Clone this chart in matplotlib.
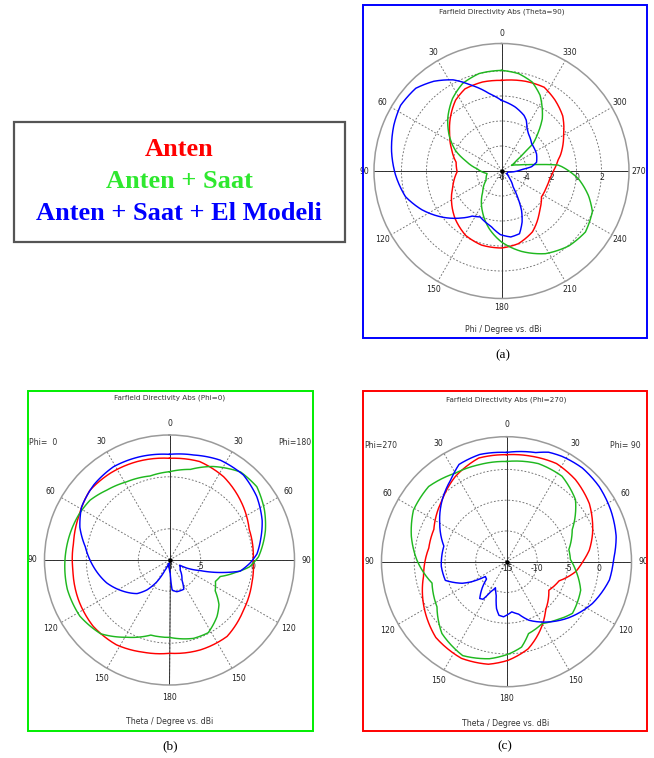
#!/usr/bin/env python3
"""
Three CST-style farfield directivity polar plots (dBi) plus a colour key box.
(a) Theta=90 cut, (b) Phi=0/180 cut, (c) Phi=270/90 cut.
"""

import numpy as np
import matplotlib
matplotlib.use("Agg")
import matplotlib.pyplot as plt
from matplotlib.patches import Rectangle

W, H = 654, 758

RED = "#ff0000"
GREEN = "#1fb81f"
BLUE = "#0000ff"

# ---- (a) Theta=90, angle = Phi in degrees, value in dBi ----
A_RED_PHI = [0, 12, 24, 33, 42, 53, 66, 79, 91, 108, 122, 136, 151, 165, 180, 193, 207, 220, 224,
             237, 250, 261, 270, 281, 285, 300, 312, 323, 333, 345]
A_RED_DB = [1.25, 1.28, 1.19, 0.75, 0.05, -0.8, -1.62, -2.3, -2.45, -1.9, -1.29, -0.67, -0.1, 0.14,
            0.16, -0.03, -0.54, -1.36, -1.6, -2.19, -2.18, -2.09, -1.85, -1.39, -1.12, -0.26, 0.59,
            1.11, 1.52, 1.43]

A_GREEN_PHI = [0, 13, 24, 34, 45, 56, 66, 74, 85, 100, 121, 138, 155, 168, 180, 194, 208, 222, 234,
               246, 254, 264, 274, 276, 279, 283, 289, 299, 305, 309, 311, 316, 322, 333, 341, 350]
A_GREEN_DB = [2.05, 2.0, 1.66, 1.0, 0.07, -0.96, -1.97, -3.0, -4.05, -4.83, -4.56, -3.76, -2.4, -1.28,
              -0.32, 0.63, 1.49, 2.06, 2.3, 1.96, 1.25, 0.21, -1.14, -1.45, -2.7, -3.76, -4.53, -5.08,
              -4.53, -3.6, -2.65, -1.81, -0.7, 0.8, 1.53, 1.91]

A_BLUE_PHI = [0, 9, 19, 28, 37, 46, 57, 67, 80, 92, 105, 116, 128, 138, 147, 155, 169, 179, 188, 196,
              202, 207, 211, 216, 227, 242, 261, 274, 278, 284, 296, 312, 324, 329, 334, 338, 348]
A_BLUE_DB = [-0.35, 0.27, 1.24, 2.26, 2.99, 3.53, 3.63, 3.36, 2.93, 2.49, 1.95, 1.08, 0.0, -0.92, -1.7,
             -1.95, -1.51, -0.91, -0.67, -0.78, -1.6, -2.47, -3.41, -4.42, -5.09, -5.55, -5.47, -4.4,
             -3.58, -3.11, -2.88, -2.75, -2.33, -2.04, -1.48, -1.2, -0.76]

# ---- (b) Phi=0 (left half) / Phi=180 (right half), angle counted ccw from top ----
B_RED_ANG = [0, 18, 34, 49, 64, 80, 96, 114, 131, 148, 164, 180, 199, 217, 236, 254, 270, 291, 310,
             327, 343]
B_RED_DB = [1.78, 1.96, 2.1, 2.17, 1.69, 1.37, 1.34, 1.56, 1.72, 1.62, 1.22, 0.97, 1.14, 1.2, 0.59,
            0.23, 0.05, 0.21, 0.91, 1.55, 1.9]

B_GREEN_ANG = [0, 13, 29, 42, 53, 64, 75, 88, 106, 122, 137, 151, 166, 180, 197, 208, 220, 228, 236,
               245, 252, 259, 265, 272, 287, 298, 310, 321, 335, 347]
B_GREEN_DB = [0.49, 0.29, 0.58, 1.03, 1.56, 1.76, 1.89, 2.03, 2.22, 2.17, 1.7, 0.49, -0.56, -0.56,
              -0.12, -0.08, -0.9, -1.6, -2.7, -3.13, -2.87, -1.6, -0.3, 0.56, 1.64, 2.33, 2.96, 2.88,
              1.92, 0.94]

B_BLUE_ANG = [0, 16, 31, 45, 59, 70, 81, 95, 110, 124, 136, 143, 150, 156, 164, 174, 183, 184, 185,
              193, 206, 212, 227, 243, 245, 251, 257, 261, 268, 274, 283, 293, 306, 319, 333, 347]
B_BLUE_DB = [2.16, 2.33, 2.46, 2.26, 1.87, 1.17, 0.2, -0.66, -1.57, -2.63, -3.51, -4.4, -5.6, -6.9,
             -7.6, -7.7, -6.7, -5.76, -5.1, -4.87, -4.87, -5.74, -6.6, -6.9, -6.15, -4.87, -2.67,
             -1.13, -0.23, 0.43, 1.0, 1.68, 2.37, 2.83, 2.77, 2.36]

# ---- (c) Phi=270 (left half) / Phi=90 (right half) ----
C_RED_ANG = [0, 15, 31, 46, 66, 80, 100, 119, 137, 155, 170, 181, 194, 206, 219, 236, 250, 262, 270,
             278, 288, 305, 320, 333, 348]
C_RED_DB = [2.4, 2.45, 1.16, -0.48, -2.07, -2.17, -1.3, 0.33, 1.85, 2.34, 1.93, 1.03, -0.41, -2.55,
            -4.9, -6.7, -5.9, -3.6, -2.6, -1.4, -0.29, 1.45, 2.43, 2.91, 2.6]

C_GREEN_ANG = [0, 16, 30, 46, 61, 75, 89, 106, 123, 138, 155, 170, 182, 190, 197, 210, 220, 232, 249,
               263, 272, 281, 296, 312, 327, 342]
C_GREEN_DB = [1.3, 1.39, 1.63, 2.6, 2.3, 1.02, -0.43, -2.4, -1.52, 0.7, 1.85, 1.02, -0.05, -0.9, -2.77,
              -3.39, -2.58, -1.38, -2.08, -3.67, -4.6, -4.67, -3.11, 0.09, 1.57, 1.77]

C_BLUE_ANG = [0, 14, 26, 34, 46, 60, 76, 94, 107, 116, 120, 125, 131, 138, 144, 148, 152, 157, 163,
              168, 172, 177, 186, 193, 201, 215, 228, 244, 260, 271, 283, 296, 309, 321, 332, 339, 345]
C_BLUE_DB = [2.77, 2.97, 2.6, 1.14, -0.48, -2.46, -4.5, -4.37, -4.6, -7.0, -8.5, -10.8, -10.7, -9.0,
             -7.6, -7.8, -9.4, -10.4, -9.3, -7.2, -6.2, -6.03, -6.8, -6.25, -4.8, -3.04, -1.38, 0.53,
             2.0, 2.4, 3.3, 3.9, 4.4, 4.6, 4.37, 4.07, 3.37]

A_ANGLE_LABELS = ["0", "30", "60", "90", "120", "150", "180", "210", "240", "270", "300", "330"]
BC_ANGLE_LABELS = ["0", "30", "60", "90", "120", "150", "180", "150", "120", "90", "60", "30"]

LEGEND_LINES = [("Anten", RED), ("Anten + Saat", "#2ee82e"), ("Anten + Saat + El Modeli", BLUE)]

CST_FONT = "DejaVu Sans"


def frac(x, y):
    return x / W, 1 - y / H


def polar_panel(fig, cx, cy, R, rmin, ppd, grid_vals, rlabels, alabels):
    rmax = rmin + R / ppd
    ax = fig.add_axes([(cx - R) / W, 1 - (cy + R) / H, 2 * R / W, 2 * R / H], projection="polar")
    ax.set_theta_zero_location("N")
    ax.set_theta_direction(1)
    ax.set_ylim(rmin, rmax)
    ax.set_xticks(np.deg2rad(np.arange(0, 360, 30)))
    ax.set_xticklabels([])
    ax.set_yticks(grid_vals)
    ax.set_yticklabels([])
    ax.tick_params(length=0)
    ax.grid(True, color="#707070", linestyle=(0, (2, 2)), linewidth=0.65)
    ax.spines["polar"].set_color("#9a9a9a")
    ax.spines["polar"].set_linewidth(1.1)

    # solid cross through the centre
    for a in (0, 90, 180, 270):
        ax.plot(np.deg2rad([a, a]), [rmin, rmax], color="#303030", lw=0.7, zorder=2)
    ax.plot([0], [rmin], "o", color="black", ms=2.2, zorder=6)

    r_lab = rmin + 137 / ppd
    for i, txt in enumerate(alabels):
        ax.text(np.deg2rad(30 * i), r_lab, txt, ha="center", va="center",
                fontsize=5.6, family=CST_FONT, color="#222222", clip_on=False)
    for v, txt in rlabels:
        ax.annotate(txt, xy=(np.deg2rad(270), v), xytext=(0, -1.5), textcoords="offset points",
                    ha="center", va="top", fontsize=5.6, family=CST_FONT, color="#222222",
                    annotation_clip=False, zorder=3)
    return ax


def curve(ax, ang, db, color):
    a = np.deg2rad(list(ang) + [ang[0] + 360])
    r = list(db) + [db[0]]
    line, = ax.plot(a, r, color=color, lw=1.05, zorder=5, solid_joinstyle="round")
    # let the polar transform draw each segment as a theta/r sweep instead of a chord
    line.get_path()._interpolation_steps = 24


def frame(fig, x0, y0, x1, y1, color, lw):
    fx, fy = frac(x0, y1)
    fig.add_artist(Rectangle((fx, fy), (x1 - x0) / W, (y1 - y0) / H, transform=fig.transFigure,
                             fill=False, edgecolor=color, linewidth=lw))


def ftext(fig, x, y, s, **kw):
    fx, fy = frac(x, y)
    fig.text(fx, fy, s, ha="center", va="center", **kw)


def main():
    fig = plt.figure(figsize=(W / 100, H / 100), dpi=100)
    fig.patch.set_facecolor("white")

    # (a)
    ax = polar_panel(fig, 501.5, 171, 127.5, -6, 12.5, [-4, -2, 0, 2],
                     [(-6, "-6"), (-4, "-4"), (-2, "-2"), (0, "0"), (2, "2")], A_ANGLE_LABELS)
    curve(ax, A_RED_PHI, A_RED_DB, RED)
    curve(ax, A_GREEN_PHI, A_GREEN_DB, GREEN)
    curve(ax, A_BLUE_PHI, A_BLUE_DB, BLUE)
    frame(fig, 362.5, 5, 646.5, 337.5, BLUE, 1.4)
    ftext(fig, 502, 12, "Farfield Directivity Abs (Theta=90)", fontsize=5.2, family=CST_FONT, color="#333")
    ftext(fig, 503, 330, "Phi / Degree vs. dBi", fontsize=5.6, family=CST_FONT, color="#333")
    ftext(fig, 503, 355, "(a)", fontsize=9.5, family="Liberation Serif")

    # (b)
    ax = polar_panel(fig, 169.5, 560, 125, -8, 10.4, [-5, 0],
                     [(-8, "-8"), (-5, "-5"), (0, "0")], BC_ANGLE_LABELS)
    curve(ax, B_RED_ANG, B_RED_DB, RED)
    curve(ax, B_GREEN_ANG, B_GREEN_DB, GREEN)
    curve(ax, B_BLUE_ANG, B_BLUE_DB, BLUE)
    frame(fig, 28, 391, 312.5, 731, "#00ee00", 1.4)
    ftext(fig, 170, 397.5, "Farfield Directivity Abs (Phi=0)", fontsize=5.2, family=CST_FONT, color="#333")
    ftext(fig, 170, 722, "Theta / Degree vs. dBi", fontsize=5.6, family=CST_FONT, color="#333")
    ftext(fig, 43, 442.5, "Phi=  0", fontsize=5.6, family=CST_FONT, color="#333")
    ftext(fig, 295, 442.5, "Phi=180", fontsize=5.6, family=CST_FONT, color="#333")
    ftext(fig, 170, 746, "(b)", fontsize=9.5, family="Liberation Serif")

    # (c)
    ax = polar_panel(fig, 506.5, 561.7, 125, -15, 6.15, [-10, -5, 0],
                     [(-15, "-15"), (-10, "-10"), (-5, "-5"), (0, "0")], BC_ANGLE_LABELS)
    curve(ax, C_RED_ANG, C_RED_DB, RED)
    curve(ax, C_GREEN_ANG, C_GREEN_DB, GREEN)
    curve(ax, C_BLUE_ANG, C_BLUE_DB, BLUE)
    frame(fig, 363, 391, 647, 731, RED, 1.4)
    ftext(fig, 506, 400, "Farfield Directivity Abs (Phi=270)", fontsize=5.2, family=CST_FONT, color="#333")
    ftext(fig, 506, 723, "Theta / Degree vs. dBi", fontsize=5.6, family=CST_FONT, color="#333")
    ftext(fig, 381, 445, "Phi=270", fontsize=5.6, family=CST_FONT, color="#333")
    ftext(fig, 625, 445, "Phi= 90", fontsize=5.6, family=CST_FONT, color="#333")
    ftext(fig, 505, 746, "(c)", fontsize=9.5, family="Liberation Serif")

    # colour key box
    frame(fig, 13.5, 121.5, 344.5, 241.5, "#555555", 1.6)
    for (txt, col), y in zip(LEGEND_LINES, [149, 181.5, 213.5]):
        ftext(fig, 179, y, txt, fontsize=19, family="Liberation Serif", weight="bold", color=col)

    fig.savefig("out.png", dpi=100)
    plt.close(fig)


if __name__ == "__main__":
    main()
